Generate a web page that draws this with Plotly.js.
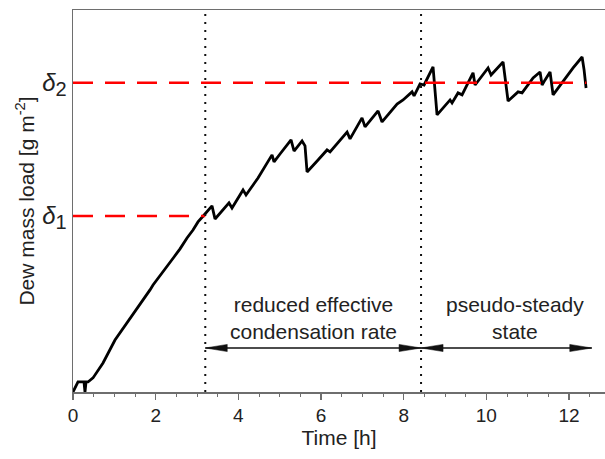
<!DOCTYPE html>
<html>
<head>
<meta charset="utf-8">
<script src="https://cdn.plot.ly/plotly-3.0.1.min.js"></script>
<style>html,body{margin:0;padding:0;background:#fff;}#chart{width:605px;height:459px;}</style>
</head>
<body>
<div id="chart"></div>
<script>
// Time in hours
const time = [0, 0.121, 0.266, 0.29, 0.315, 0.363, 0.484, 0.726, 1.016, 1.137, 1.331, 1.5, 1.669, 1.863, 1.936, 2.105, 2.274, 2.444, 2.589, 2.758, 2.903, 3.024, 3.15,
  3.363, 3.436, 3.774, 3.847, 4.113, 4.186, 4.476, 4.815, 4.863, 5.008, 5.275, 5.347, 5.541, 5.613, 5.662, 5.928, 6.146, 6.218, 6.63, 6.702, 6.992, 7.065, 7.38, 7.476, 7.839, 7.985, 8.202, 8.251, 8.396, 8.493, 8.71,
  8.807, 9.122, 9.17, 9.315, 9.412, 9.678, 9.727, 10.041, 10.114, 10.404, 10.525, 10.694, 10.767, 10.864, 11.057, 11.13, 11.299, 11.348, 11.42, 11.541, 11.614, 11.904, 12.098, 12.316, 12.364, 12.412];
// Dew mass load, in units of delta1
const load = [0, 0.057, 0.057, 0, 0.057, 0.057, 0.08, 0.165, 0.295, 0.335, 0.398, 0.455, 0.511, 0.58, 0.608, 0.659, 0.716, 0.767, 0.813, 0.875, 0.92, 0.966, 1.0,
  1.057, 0.983, 1.074, 1.045, 1.148, 1.119, 1.216, 1.347, 1.307, 1.352, 1.432, 1.369, 1.426, 1.398, 1.25, 1.318, 1.375, 1.364, 1.477, 1.438, 1.557, 1.506, 1.597, 1.534, 1.636, 1.659, 1.705, 1.682, 1.75, 1.744, 1.847,
  1.574, 1.659, 1.642, 1.699, 1.688, 1.813, 1.744, 1.841, 1.801, 1.875, 1.653, 1.688, 1.705, 1.699, 1.761, 1.784, 1.818, 1.744, 1.773, 1.818, 1.688, 1.784, 1.841, 1.903, 1.83, 1.727];

const delta1 = 1.0;
const delta2 = 1.757;
const deltaLabels = ['<i>δ</i><sub><span style="font-size:20px">1</span></sub>', '<i>δ</i><sub><span style="font-size:20px">2</span></sub>'];
const phaseBounds = [3.2, 8.42, 12.55];
const phaseLabels = ['reduced effective<br>condensation rate', 'pseudo-steady<br>state'];
const delta1End = 3.2;
const delta2End = 12.42;
const arrowLevel = 0.25;
const labelLevel = 0.418;

const FONT = 'Liberation Sans, Arial, sans-serif';
const AX = '#6e6e6e';

const shapes = [
  {type:'line', xref:'x', yref:'y', x0:0, x1:delta1End, y0:delta1, y1:delta1, line:{color:'#ff0000', width:2.5, dash:'20px,12px'}},
  {type:'line', xref:'x', yref:'y', x0:0, x1:delta2End, y0:delta2, y1:delta2, line:{color:'#ff0000', width:2.5, dash:'20px,12px'}},
  {type:'line', xref:'x', yref:'paper', x0:phaseBounds[0], x1:phaseBounds[0], y0:0, y1:1, line:{color:'#111', width:2, dash:'2px,6px'}},
  {type:'line', xref:'x', yref:'paper', x0:phaseBounds[1], x1:phaseBounds[1], y0:0, y1:1, line:{color:'#111', width:2, dash:'2px,6px'}},
  {type:'line', xref:'x', yref:'y', x0:phaseBounds[0], x1:phaseBounds[1], y0:arrowLevel, y1:arrowLevel, line:{color:'#111', width:1.3}},
  {type:'line', xref:'x', yref:'y', x0:phaseBounds[1], x1:phaseBounds[2], y0:arrowLevel, y1:arrowLevel, line:{color:'#111', width:1.3}}
];
function head(x, dir){
  const L = 22, H = 3.6;
  const p = dir < 0 ? `M0,0L${L},${H}L${L},${-H}Z` : `M0,0L${-L},${H}L${-L},${-H}Z`;
  return {type:'path', xref:'x', yref:'y', xsizemode:'pixel', ysizemode:'pixel', xanchor:x, yanchor:arrowLevel,
    path:p, fillcolor:'#111', line:{color:'#111', width:0.5}};
}
shapes.push(head(phaseBounds[0], -1), head(phaseBounds[1], 1), head(phaseBounds[1], -1), head(phaseBounds[2], 1));

const annotations = [
  {xref:'x', yref:'y', x:(phaseBounds[0]+phaseBounds[1])/2, y:labelLevel, text:phaseLabels[0], showarrow:false, font:{family:FONT, size:21, color:'#222'}, align:'center'},
  {xref:'x', yref:'y', x:(phaseBounds[1]+phaseBounds[2])/2 + 0.2, y:labelLevel, text:phaseLabels[1], showarrow:false, font:{family:FONT, size:21, color:'#222'}, align:'center'}
];

const trace = {x:time, y:load, type:'scatter', mode:'lines', line:{color:'#000', width:2.8}, hoverinfo:'skip'};

const layout = {
  width:605, height:459,
  margin:{l:73, r:0, t:10, b:67},
  paper_bgcolor:'#fff', plot_bgcolor:'#fff',
  showlegend:false,
  font:{family:FONT, color:'#222'},
  xaxis:{range:[0, 12.87], showline:true, mirror:true, linecolor:AX, linewidth:1.5, showgrid:false, zeroline:false,
    ticks:'outside', ticklen:6, tickwidth:1.3, tickcolor:AX, dtick:2, tick0:0,
    minor:{dtick:0.5, ticks:'outside', ticklen:3, tickwidth:1, tickcolor:AX},
    tickfont:{family:FONT, size:19, color:'#222'},
    title:{text:'Time [h]', font:{family:FONT, size:21, color:'#222'}, standoff:5}},
  yaxis:{range:[0, 2.17], showline:true, mirror:false, linecolor:AX, linewidth:1.5, showgrid:false, zeroline:false,
    ticks:'', tickvals:[delta1, delta2], ticktext:deltaLabels,
    tickfont:{family:FONT, size:24, color:'#222'},
    title:{text:'Dew mass load [g m<sup>-2</sup>]', font:{family:FONT, size:21, color:'#222'}, standoff:2}},
  shapes:shapes,
  annotations:annotations
};

Plotly.newPlot('chart', [trace], layout, {staticPlot:true, displayModeBar:false});
</script>
</body>
</html>
